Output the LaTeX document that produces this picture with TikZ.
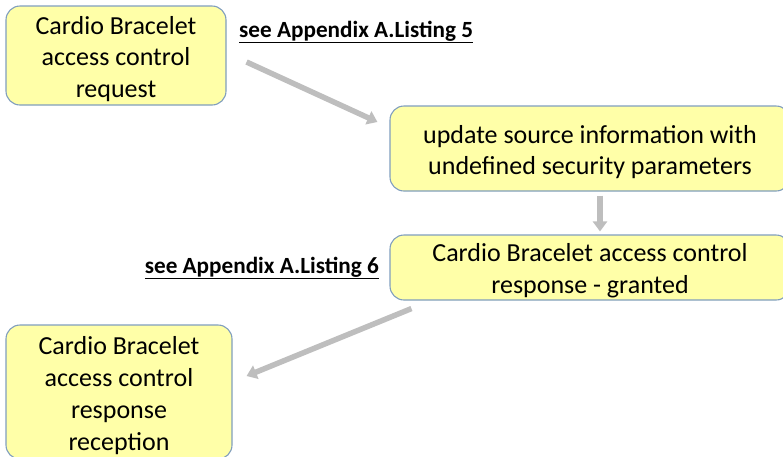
\documentclass[tikz,border=0pt]{standalone}
\usepackage{fontspec}
\setmainfont{Carlito}
\usetikzlibrary{arrows.meta,calc}
\definecolor{boxfill}{RGB}{255,255,168}
\definecolor{boxedge}{RGB}{128,158,190}
\definecolor{flowgray}{RGB}{190,190,190}
% a taller first line moves the text block slightly down in its box
\newcommand{\toppad}{\rule{0pt}{25pt}}
\tikzset{
  stepbox/.style={draw=boxedge, line width=1.1pt, fill=boxfill, rounded corners=14pt,
    inner sep=0pt, align=center, font=\fontsize{26}{31.8}\selectfont},
  reflabel/.style={inner sep=0pt, font=\fontsize{23.2}{26}\selectfont\bfseries},
  flow/.style={draw=flowgray, line width=5.5pt,
    -{Triangle[length=10pt,width=14pt]}}
}
\begin{document}
\begin{tikzpicture}[x=1pt,y=-1pt]
\useasboundingbox (0,0) rectangle (783,456);
\clip (0,0) rectangle (783,456);

% process steps
\node[stepbox, minimum width=220pt, minimum height=99pt] (b1) at (116,55.5)
  {\toppad Cardio Bracelet\\access control\\request};
\node[stepbox, minimum width=400pt, minimum height=85pt] (b2) at (590,148.5)
  {\toppad update source information with\\undefined security parameters};
\node[stepbox, minimum width=400pt, minimum height=65pt] (b3) at (590,267.5)
  {\toppad Cardio Bracelet access control\\response - granted};
\node[stepbox, minimum width=226pt, minimum height=134pt] (b4) at (119,392)
  {\toppad Cardio Bracelet\\access control\\response\\reception};

% references to the listings
\node[reflabel, anchor=west] (l5) at (239,32) {\underline{see Appendix A.Listing 5}};
\node[reflabel, anchor=east] (l6) at (379,268) {\underline{see Appendix A.Listing 6}};

% connector end points
\coordinate (a1s) at ($(b1.east)+(20,6.5)$);
\coordinate (a1e) at ($(b2.west)+(-12,-26.5)$);
\coordinate (a2s) at ($(b2.south)+(10,4)$);
\coordinate (a2e) at ($(b3.north)+(10,-3)$);
\coordinate (a3s) at ($(b3.south west)+(22,8)$);
\coordinate (a3e) at ($(b4.east)+(14,-16)$);

\draw[flow] (a1s) -- (a1e);
\draw[flow] (a2s) -- (a2e);
\draw[flow] (a3s) -- (a3e);
\end{tikzpicture}
\end{document}
